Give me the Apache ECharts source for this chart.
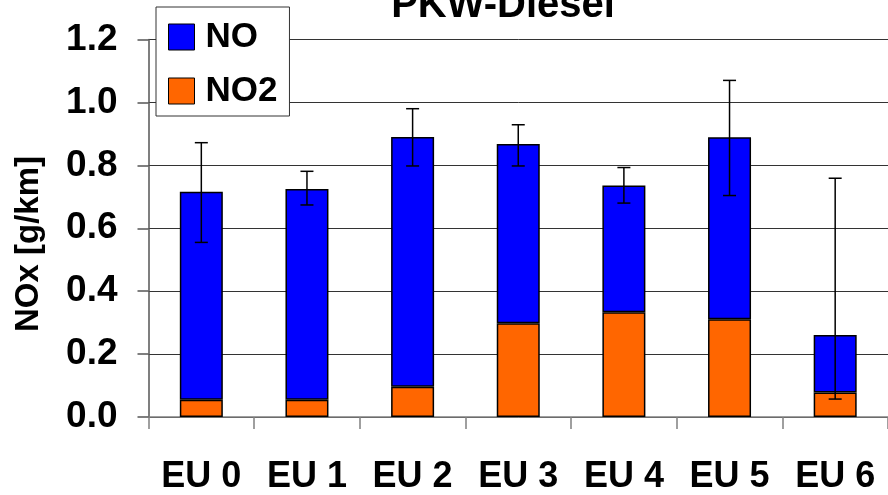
<!DOCTYPE html>
<html>
<head>
<meta charset="utf-8">
<script src="https://cdn.jsdelivr.net/npm/echarts@6/dist/echarts.min.js"></script>
<style>html,body{margin:0;padding:0;background:#fff}#c{width:888px;height:495px}</style>
</head>
<body>
<div id="c"></div>
<script>
var categories = ['EU 0', 'EU 1', 'EU 2', 'EU 3', 'EU 4', 'EU 5', 'EU 6'];
var no2Values = [0.055, 0.055, 0.096, 0.298, 0.333, 0.311, 0.078];
var noValues = [0.661, 0.670, 0.794, 0.570, 0.403, 0.578, 0.183];
var errLow = [0.555, 0.674, 0.798, 0.798, 0.680, 0.704, 0.057];
var errHigh = [0.872, 0.781, 0.980, 0.929, 0.793, 1.070, 0.759];
var yTicks = [0, 0.2, 0.4, 0.6, 0.8, 1.0, 1.2];

var FONT = 'Liberation Sans, Arial, sans-serif';
var chart = echarts.init(document.getElementById('c'));
var errData = categories.map(function (c, i) { return [i, errLow[i], errHigh[i]]; });

chart.setOption({
  animation: false,
  backgroundColor: '#fff',
  grid: { left: 148.5, right: -8, top: 39.5, bottom: 75.5 },
  graphic: [
    { type: 'text', x: 503, y: 5.5, z: 10,
      style: { text: 'PKW-Diesel', fontFamily: FONT, fontWeight: 'bold', fontSize: 40, fill: '#000', align: 'center', verticalAlign: 'middle' } },
    { type: 'text', x: 28.5, y: 244, rotation: Math.PI / 2, z: 10,
      style: { text: 'NOx [g/km]', fontFamily: FONT, fontWeight: 'bold', fontSize: 33, fill: '#000', align: 'center', verticalAlign: 'middle' } }
  ],
  legend: {
    orient: 'vertical', left: 156, top: 7,
    padding: [12.5, 12, 7.5, 12],
    itemWidth: 26, itemHeight: 26, itemGap: 19,
    backgroundColor: '#fff', borderColor: '#333', borderWidth: 1,
    textStyle: { fontFamily: FONT, fontWeight: 'bold', fontSize: 35, lineHeight: 35, color: '#000', padding: [0, 0, 0, 6] },
    data: [
      { name: 'NO', icon: 'rect', itemStyle: { color: '#0000FF', borderColor: '#000', borderWidth: 1 } },
      { name: 'NO2', icon: 'rect', itemStyle: { color: '#FF6600', borderColor: '#000', borderWidth: 1 } }
    ]
  },
  xAxis: {
    type: 'category', data: categories,
    axisLine: { lineStyle: { color: '#808080', width: 1.5 } },
    axisTick: { show: true, length: 12, lineStyle: { color: '#808080', width: 1.5 } },
    axisLabel: { fontFamily: FONT, fontWeight: 'bold', fontSize: 36, lineHeight: 36, color: '#000', margin: 42 }
  },
  yAxis: {
    type: 'value', min: 0, max: 1.2, interval: 0.2,
    axisLine: { show: true, lineStyle: { color: '#555', width: 1.5 } },
    axisTick: { show: true, length: 11, lineStyle: { color: '#555', width: 1.5 } },
    splitLine: { lineStyle: { color: '#333', width: 1 } },
    axisLabel: { fontFamily: FONT, fontWeight: 'bold', fontSize: 37, color: '#000', margin: 31,
      formatter: function (v) { return v.toFixed(1); } }
  },
  series: [
    { name: 'NO2', type: 'bar', stack: 'nox', barWidth: 43, data: no2Values,
      itemStyle: { color: '#FF6600', borderColor: '#000', borderWidth: 1.5 } },
    { name: 'NO', type: 'bar', stack: 'nox', barWidth: 43, data: noValues,
      itemStyle: { color: '#0000FF', borderColor: '#000', borderWidth: 1.5 } },
    { name: 'err', type: 'custom', z: 5, data: errData,
      renderItem: function (params, api) {
        var x = api.value(0);
        var lo = api.coord([x, api.value(1)]);
        var hi = api.coord([x, api.value(2)]);
        var w = 6.5;
        var st = { stroke: '#000', lineWidth: 1.5 };
        return { type: 'group', children: [
          { type: 'line', shape: { x1: lo[0], y1: lo[1], x2: hi[0], y2: hi[1] }, style: st },
          { type: 'line', shape: { x1: lo[0] - w, y1: lo[1], x2: lo[0] + w, y2: lo[1] }, style: st },
          { type: 'line', shape: { x1: hi[0] - w, y1: hi[1], x2: hi[0] + w, y2: hi[1] }, style: st }
        ] };
      } }
  ]
});
</script>
</body>
</html>
